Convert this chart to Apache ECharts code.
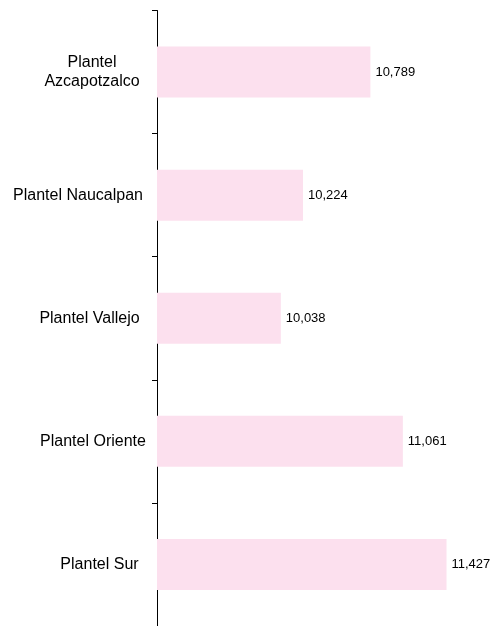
<!DOCTYPE html>
<html>
<head>
<meta charset="utf-8">
<script src="https://cdn.jsdelivr.net/npm/echarts@6/dist/echarts.min.js"></script>
<style>
html,body{margin:0;padding:0;background:#fff;}
#chart{width:494px;height:626px;}
</style>
</head>
<body>
<div id="chart"></div>
<script>
var categories = ['Plantel\nAzcapotzalco', 'Plantel Naucalpan', 'Plantel Vallejo', 'Plantel Oriente', 'Plantel Sur'];
var values = [10789, 10224, 10038, 11061, 11427];
var xMin = 9000;
var xMax = 11800;

// per-label horizontal nudges (style only)
var labelStyleKeys = ['s0', 's1', 's2', 's3', 's4'];
var baseLabel = {color: '#000', fontFamily: 'Liberation Sans, Arial, sans-serif', fontSize: 16, lineHeight: 19};
function mk(pad) { return Object.assign({}, baseLabel, {padding: pad}); }

var chart = echarts.init(document.getElementById('chart'), null, {renderer: 'canvas'});
chart.setOption({
  animation: false,
  backgroundColor: '#ffffff',
  grid: {left: 157, right: 3, top: 10.5, height: 618},
  xAxis: {
    type: 'value', min: xMin, max: xMax, show: false
  },
  yAxis: {
    type: 'category',
    data: categories,
    inverse: true,
    axisLine: {show: true, lineStyle: {color: '#000', width: 1}},
    axisTick: {show: true, length: 5, lineStyle: {color: '#000', width: 1}},
    axisLabel: {
      color: '#000', fontFamily: 'Liberation Sans, Arial, sans-serif', fontSize: 16,
      align: 'center', margin: 65, lineHeight: 19,
      formatter: function (v, i) {
        return v.split('\n').map(function (line) { return '{' + labelStyleKeys[i] + '|' + line + '}'; }).join('\n');
      },
      rich: {
        s0: mk([0, 0, 0, 0]),
        s1: mk([0, 28, 0, 0]),
        s2: mk([0, 5, 0, 0]),
        s3: mk([0, 0, 0, 2]),
        s4: mk([0, 0, 0, 15])
      }
    },
    splitLine: {show: false}
  },
  series: [{
    type: 'bar',
    data: values,
    barWidth: 51,
    itemStyle: {color: '#fce0ee'},
    label: {
      show: true, position: 'right', distance: 5, color: '#000',
      fontFamily: 'Liberation Sans, Arial, sans-serif', fontSize: 13,
      formatter: function(p){ return p.value.toLocaleString('en-US'); }
    }
  }]
});
</script>
</body>
</html>
